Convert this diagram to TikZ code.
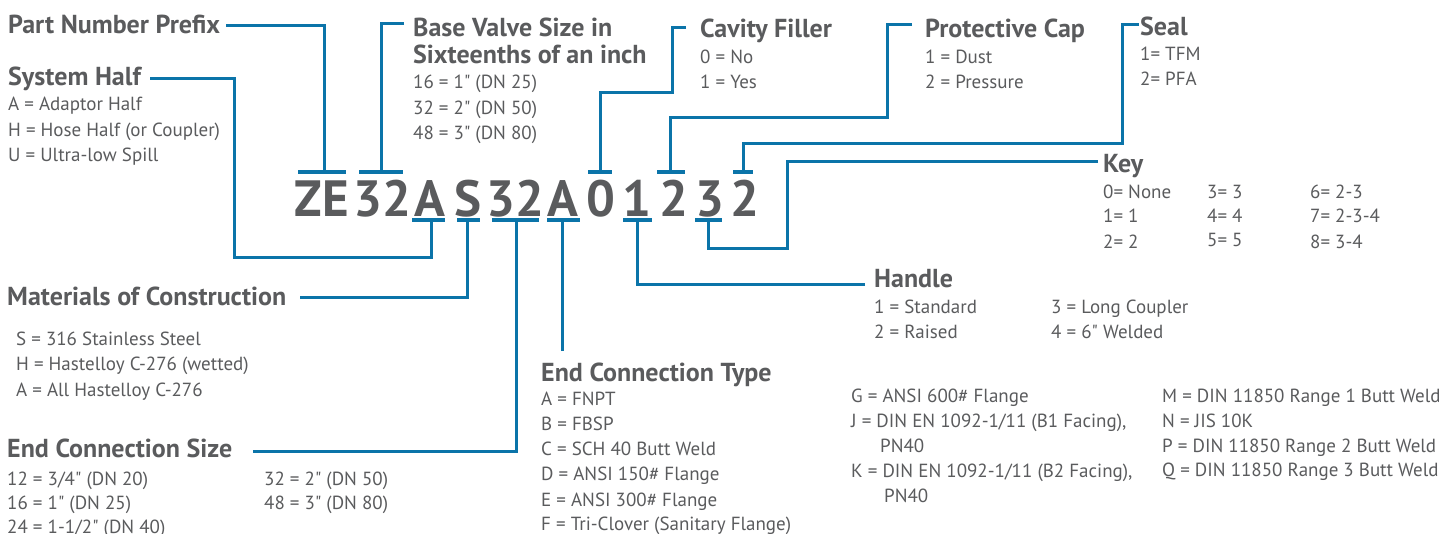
\documentclass[tikz,border=0pt]{standalone}
\usepackage{fontspec}
\setmainfont{PT Sans}
\font\dqfont="PT Sans" at 19pt
\newcommand\dq{{\dqfont\char34}}
\definecolor{txt}{HTML}{5A5B5D}
\definecolor{blu}{HTML}{0B74A9}
\tikzset{
  hd/.style={font=\fontsize{26}{30}\selectfont\bfseries, text=txt, anchor=base west, inner sep=0pt},
  bd/.style={font=\fontsize{19}{24}\selectfont, text=txt, anchor=base west, inner sep=0pt},
  codech/.style={font=\fontsize{51}{51}\selectfont\bfseries, text=txt, anchor=base, inner sep=0pt},
  ln/.style={draw=blu, line width=3pt},
  tickbar/.style={draw=blu, line width=3.3pt}
}
\begin{document}
\begin{tikzpicture}[x=1pt,y=-1pt]
\useasboundingbox (0,0) rectangle (1439,533);
% ---------- code ----------
\node[codech] (cZE) at (322,216) {ZE};
\node[codech] (c32a) at (382,216) {32};
\node[codech] (cAa) at (430,216) {A};
\node[codech] (cS) at (468,216) {S};
\node[codech] (c32b) at (515,216) {32};
\node[codech] (cAb) at (563,216) {A};
\node[codech] (c0) at (601,216) {0};
\node[codech] (c1) at (637,216) {1};
\node[codech] (c2) at (674,216) {2};
\node[codech] (c3) at (710,216) {3};
\node[codech] (c2b) at (745,216) {2};
% ---------- headings ----------
\node[hd] (pnp) at (8,33) {Part Number Prefix};
\node[hd] (bvs) at (413,36) {Base Valve Size in};
\node[hd] (bvs2) at (413,63) {Sixteenths of an inch};
\node[hd] (sh) at (8,85) {System Half};
\node[hd] (cf) at (700,37) {Cavity Filler};
\node[hd] (pc) at (925,37) {Protective Cap};
\node[hd] (seal) at (1140,35) {Seal};
\node[hd] (key) at (1103,172) {Key};
\node[hd] (mat) at (7,305) {Materials of Construction};
\node[hd] (ecs) at (7,457) {End Connection Size};
\node[hd] (ect) at (541,381) {End Connection Type};
\node[hd] (hdl) at (874,287) {Handle};
% ---------- body text ----------
\node[bd] (bvs-a) at (413,88) {16 = 1\dq\ (DN 25)};
\node[bd] (bvs-b) at (413,114) {32 = 2\dq\ (DN 50)};
\node[bd] (bvs-c) at (413,139) {48 = 3\dq\ (DN 80)};
\node[bd] (sh-a) at (8,110) {A = Adaptor Half};
\node[bd] (sh-b) at (8,136) {H = Hose Half (or Coupler)};
\node[bd] (sh-c) at (8,161) {U = Ultra-low Spill};
\node[bd] (cf-a) at (700,63) {0 = No};
\node[bd] (cf-b) at (700,88) {1 = Yes};
\node[bd] (pc-a) at (925,63) {1 = Dust};
\node[bd] (pc-b) at (925,88) {2 = Pressure};
\node[bd] (seal-a) at (1140,60) {1= TFM};
\node[bd] (seal-b) at (1140,85) {2= PFA};
\node[bd] (k0) at (1103,198) {0= None};
\node[bd] (k1) at (1103,222) {1= 1};
\node[bd] (k2) at (1103,248) {2= 2};
\node[bd] (k3) at (1207,198) {3= 3};
\node[bd] (k4) at (1207,222) {4= 4};
\node[bd] (k5) at (1207,246) {5= 5};
\node[bd] (k6) at (1310,198) {6= 2-3};
\node[bd] (k7) at (1310,222) {7= 2-3-4};
\node[bd] (k8) at (1310,248) {8= 3-4};
\node[bd] (mat-a) at (16,345) {S = 316 Stainless Steel};
\node[bd] (mat-b) at (16,370) {H = Hastelloy C-276 (wetted)};
\node[bd] (mat-c) at (16,396) {A = All Hastelloy C-276};
\node[bd] (ecs-a) at (7,485) {12 = 3/4\dq\ (DN 20)};
\node[bd] (ecs-b) at (7,509) {16 = 1\dq\ (DN 25)};
\node[bd] (ecs-c) at (7,533) {24 = 1-1/2\dq\ (DN 40)};
\node[bd] (ecs-d) at (264,485) {32 = 2\dq\ (DN 50)};
\node[bd] (ecs-e) at (264,509) {48 = 3\dq\ (DN 80)};
\node[bd] (ect-a) at (541,405) {A = FNPT};
\node[bd] (ect-b) at (541,430) {B = FBSP};
\node[bd] (ect-c) at (541,455) {C = SCH 40 Butt Weld};
\node[bd] (ect-d) at (541,480) {D = ANSI 150\# Flange};
\node[bd] (ect-e) at (541,506) {E = ANSI 300\# Flange};
\node[bd] (ect-f) at (541,530) {F = Tri-Clover (Sanitary Flange)};
\node[bd] (ect-g) at (851,402) {G = ANSI 600\# Flange};
\node[bd] (ect-j) at (851,427) {J = DIN EN 1092-1/11 (B1 Facing),};
\node[bd] (ect-j2) at (880,452) {PN40};
\node[bd] (ect-k) at (851,477) {K = DIN EN 1092-1/11 (B2 Facing),};
\node[bd] (ect-k2) at (884,502) {PN40};
\node[bd] (ect-m) at (1162,402) {M = DIN 11850 Range 1 Butt Weld};
\node[bd] (ect-n) at (1162,427) {N = JIS 10K};
\node[bd] (ect-p) at (1162,452) {P = DIN 11850 Range 2 Butt Weld};
\node[bd] (ect-q) at (1162,476) {Q = DIN 11850 Range 3 Butt Weld};
\node[bd] (h1) at (874,313) {1 = Standard};
\node[bd] (h2) at (874,338) {2 = Raised};
\node[bd] (h3) at (1051,313) {3 = Long Coupler};
\node[bd] (h4) at (1051,338) {4 = 6\dq\ Welded};
% ---------- tick bars ----------
\draw[tickbar] (298,172) -- (346,172);
\draw[tickbar] (359,172) -- (403,172);
\draw[tickbar] (588,172) -- (612,172);
\draw[tickbar] (657,172) -- (685,172);
\draw[tickbar] (733,172) -- (753,172);
\draw[tickbar] (412,220) -- (445,220);
\draw[tickbar] (457,220) -- (480,220);
\draw[tickbar] (492,220) -- (539,220);
\draw[tickbar] (547,220) -- (580,220);
\draw[tickbar] (623,220) -- (652,220);
\draw[tickbar] (695,220) -- (722,220);
% ---------- connector coordinates ----------
\coordinate (tZE) at (324,172);
\coordinate (t32a) at (381,172);
\coordinate (tAa) at (431,220);
\coordinate (tS) at (467,220);
\coordinate (t32b) at (516,220);
\coordinate (tAb) at (562,220);
\coordinate (t0) at (600,172);
\coordinate (t1) at (637,220);
\coordinate (t2) at (670,172);
\coordinate (t3) at (708,220);
\coordinate (t2b) at (743,172);
\coordinate (ePNP) at (226,25);
\coordinate (eBVS) at (404,23);
\coordinate (eSH) at (150,78);
\coordinate (eMAT) at (300,297);
\coordinate (eECS) at (253,451);
\coordinate (eECT) at (562,351);
\coordinate (eCF) at (686,27);
\coordinate (ePC) at (912,24);
\coordinate (eSEAL) at (1139,24);
\coordinate (eKEY) at (1098,161);
\coordinate (eHDL) at (865,284);
% ---------- connectors ----------
\draw[ln] (ePNP) -| (tZE);
\draw[ln] (eBVS) -| (t32a);
\draw[ln] (eSH) -| (234,257) -| (tAa);
\draw[ln] (eMAT) -| (tS);
\draw[ln] (eECS) -| (t32b);
\draw[ln] (eECT) -- (tAb);
\draw[ln] (eCF) -| (672,92) -| (t0);
\draw[ln] (ePC) -| (887,117) -| (t2);
\draw[ln] (eSEAL) -| (1122,143) -| (t2b);
\draw[ln] (eKEY) -| (787,248) -| (t3);
\draw[ln] (eHDL) -| (t1);
\end{tikzpicture}
\end{document}
